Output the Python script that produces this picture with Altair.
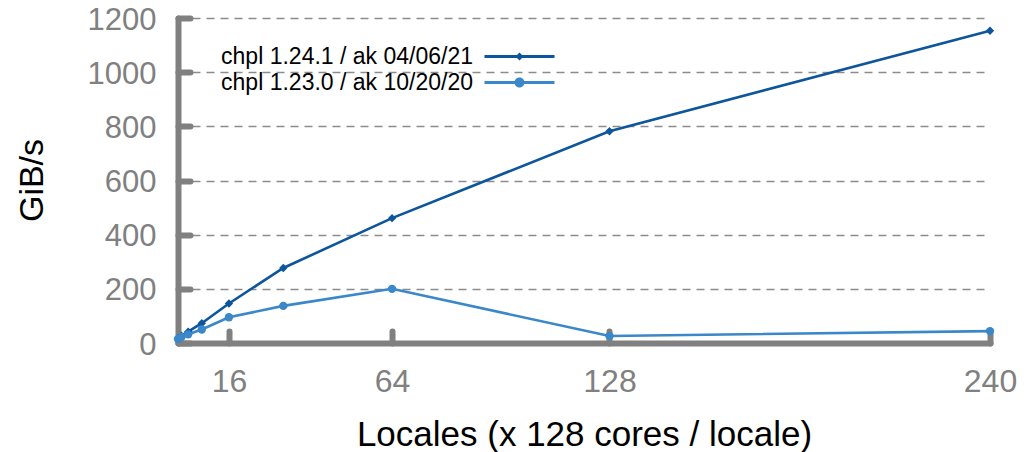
import altair as alt
import pandas as pd

locales = [1, 2, 4, 8, 16, 32, 64, 128, 240]
series_new = "chpl 1.24.1 / ak 04/06/21"
series_old = "chpl 1.23.0 / ak 10/20/20"
gibs_new = [18, 27, 42, 73, 146, 277, 461, 782, 1153]
gibs_old = [15, 22, 32, 50, 95, 137, 200, 26, 44]
series_names = [series_new, series_old]
series_colors = ["#0d559c", "#3a87c9"]
series_shapes = ["diamond", "circle"]
x_ticks = [16, 64, 128, 240]
y_ticks = [0, 200, 400, 600, 800, 1000, 1200]

rows = []
for name, vals in [(series_new, gibs_new), (series_old, gibs_old)]:
    for loc, v in zip(locales, vals):
        rows.append({"locales": loc, "gibs": v, "series": name})
df = pd.DataFrame(rows)

# legend glyphs: a line with the series marker in the middle (unit = 10 px)
PATH_DARK = "M-3.5,-0.14H3.5V0.14H-3.5Z M0,-0.4L0.4,0L0,0.4L-0.4,0Z"
PATH_LIGHT = ("M-3.5,-0.14H3.5V0.14H-3.5Z M0.5,0 A0.5,0.5 0 1,1 -0.5,0 "
              "A0.5,0.5 0 1,1 0.5,0Z")
SYMBOL_EXPR = "datum.value === '%s' ? '%s' : '%s'" % (series_new, PATH_DARK, PATH_LIGHT)

GRAY = "#808080"
FONT = "Liberation Sans"

x_enc = alt.X(
    "locales:Q",
    scale=alt.Scale(domain=[1, 240], nice=False, zero=False),
    axis=alt.Axis(
        values=x_ticks, grid=False, format="d", domainColor=GRAY, domainWidth=6,
        domainCap="round", tickColor=GRAY, tickWidth=6, tickCap="round",
        tickSize=alt.ExprRef(expr="-12"), labelFlush=False,
        labelFont=FONT, labelFontSize=32, labelColor=GRAY, labelPadding=35,
        title="Locales (x 128 cores / locale)", titleFont=FONT, titleFontSize=35,
        titleFontWeight="normal", titleColor="black", titleX=406, titleY=102,
        titleBaseline="alphabetic", titleAlign="center",
    ),
)
y_enc = alt.Y(
    "gibs:Q",
    scale=alt.Scale(domain=[0, 1200], nice=False),
    axis=alt.Axis(
        values=y_ticks, grid=True, format="d", gridDash=[8, 6], gridColor="#8c8c8c",
        gridWidth=1.5, domainColor=GRAY, domainWidth=6, domainCap="round",
        tickColor=GRAY, tickWidth=6, tickCap="round", tickSize=alt.ExprRef(expr="-12"),
        labelFont=FONT, labelFontSize=31, labelColor=GRAY, labelPadding=34,
        labelOffset=2, labelFlush=False,
        title="GiB/s", titleFont=FONT, titleFontSize=34, titleFontWeight="normal",
        titleColor="black", titleX=-136, titleY=162, titleBaseline="alphabetic",
        titleAlign="center", titleAngle=270,
    ),
)

base = alt.Chart(df)

lines = base.mark_line(strokeWidth=2.6).encode(
    x=x_enc, y=y_enc,
    color=alt.Color("series:N", scale=alt.Scale(domain=series_names, range=series_colors),
                    legend=None),
)

points = base.mark_point(filled=True, opacity=1, size=70).encode(
    x=x_enc, y=y_enc,
    shape=alt.Shape("series:N", scale=alt.Scale(domain=series_names, range=series_shapes),
                    legend=None),
    color=alt.Color(
        "series:N",
        scale=alt.Scale(domain=series_names, range=series_colors),
        legend=alt.Legend(
            title=None, orient="none", legendX=330, legendY=27,
            labelFont=FONT, labelFontSize=23, labelColor="black", labelLimit=400,
            labelAlign="right", labelOffset=alt.ExprRef(expr="-58"),
            rowPadding=2,
            symbolSize=400, symbolType=alt.ExprRef(expr=SYMBOL_EXPR),
            symbolStrokeWidth=0,
        ),
    ),
)

chart = alt.layer(lines, points).resolve_legend(color="independent").properties(
    width=812, height=325,
    autosize=alt.AutoSizeParams(type="none"),
    padding={"left": 170, "top": 10, "right": 30, "bottom": 109},
).configure_view(stroke=None)

chart.save("out.html", embed_options={"renderer": "svg", "actions": False})
